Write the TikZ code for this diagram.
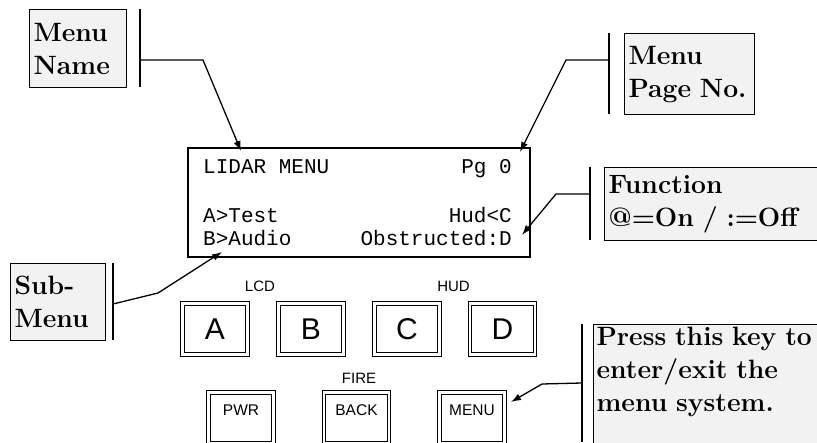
\documentclass[tikz,border=0pt]{standalone}
\usepackage{fontspec}
\setmonofont{Liberation Mono}
\setsansfont{Liberation Sans}
\usetikzlibrary{arrows.meta}
\definecolor{boxgray}{HTML}{F2F2F2}

\tikzstyle{callout} = [draw,fill=boxgray,line width=1.2pt,anchor=north west,align=left,inner xsep=4pt,inner ysep=3pt,font=\fontsize{26.5}{33}\selectfont\bfseries]
\tikzstyle{bar} = [line width=1.4pt]
\tikzstyle{callline} = [line width=1.3pt,-{Latex[length=10pt,width=7pt]}]
\tikzstyle{lcdtext} = [inner sep=0pt,font=\fontsize{21}{23}\selectfont\ttfamily]
\tikzstyle{key} = [draw,double,double distance=2.4pt,line width=1.2pt,minimum width=65pt,minimum height=51pt,inner sep=0pt,font=\fontsize{30}{30}\selectfont\sffamily]
\tikzstyle{lowkey} = [key,text height=12pt,text depth=18pt,font=\fontsize{15.5}{16}\selectfont\sffamily]
\tikzstyle{keylabel} = [inner sep=0pt,font=\fontsize{15}{16}\selectfont\sffamily]

\begin{document}
\begin{tikzpicture}[x=1pt,y=-1pt]
	\useasboundingbox (0,0) rectangle (817,442);
	\clip (0,0) rectangle (817,442);
	% display
	\node[draw,line width=1.8pt,minimum width=342pt,minimum height=109pt] (lcd) at (359,202.5) {};
	\node[lcdtext,anchor=base west] (title) at (203,173) {LIDAR MENU};
	\node[lcdtext,anchor=base east] (page) at (512,173) {Pg 0};
	\node[lcdtext,anchor=base west] (suba) at (203,222) {A>Test};
	\node[lcdtext,anchor=base east] (funcc) at (512,222) {Hud<C};
	\node[lcdtext,anchor=base west] (subb) at (203,245) {B>Audio};
	\node[lcdtext,anchor=base east] (funcd) at (512,245) {Obstructed:D};
	% keys
	\node[key] (ka) at (215,329) {A};
	\node[key] (kb) at (311,329) {B};
	\node[key] (kc) at (407,329) {C};
	\node[key] (kd) at (502.5,329) {D};
	\node[lowkey] (kpwr) at (241,418) {PWR};
	\node[lowkey] (kback) at (356.5,418) {BACK};
	\node[lowkey] (kmenu) at (472,418) {MENU};
	\node[keylabel] (llcd) at (260,286) {LCD};
	\node[keylabel] (lhud) at (453.5,286) {HUD};
	\node[keylabel] (lfire) at (359,378.5) {FIRE};
	% callouts
	\node[callout,text width=89pt,minimum height=78pt] (mname) at (29,9) {Menu\\Name};
	\node[callout,text width=122pt,minimum height=81pt] (mpage) at (624,33) {Menu\\Page No.};
	\node[callout,text width=210pt,minimum height=73pt] (func) at (604,167) {Function\\@=On / :=Off};
	\node[callout,text width=87pt,minimum height=77pt] (sub) at (10,263) {Sub-\\Menu};
	\node[callout,text width=220pt,text depth=100pt,inner xsep=3pt] (press) at (593,324) {Press this key to\\enter/exit the\\menu system.};
	\draw[bar] (140,9) -- (140,87);
	\draw[bar] (609,33) -- (609,114);
	\draw[bar] (590,167) -- (590,240);
	\draw[bar] (113,263) -- (113,340);
	\draw[bar] (582,324) -- (582,442);
	\coordinate (mnameA) at (140,60);
	\coordinate (mnameB) at (203,60);
	\coordinate (mnameT) at (241,151);
	\coordinate (mpageA) at (609,60);
	\coordinate (mpageB) at (566,60);
	\coordinate (mpageT) at (520,152);
	\coordinate (funcA) at (590,194);
	\coordinate (funcB) at (556,194);
	\coordinate (funcT) at (522,235);
	\coordinate (subA) at (113,304);
	\coordinate (subB) at (158,293);
	\coordinate (subT) at (222,252);
	\coordinate (pressA) at (582,383);
	\coordinate (pressB) at (542,384);
	\coordinate (pressT) at (511,402);
	\draw[callline] (mnameA) -- (mnameB) -- (mnameT);
	\draw[callline] (mpageA) -- (mpageB) -- (mpageT);
	\draw[callline] (funcA) -- (funcB) -- (funcT);
	\draw[callline] (subA) -- (subB) -- (subT);
	\draw[callline] (pressA) -- (pressB) -- (pressT);
\end{tikzpicture}
\end{document}
